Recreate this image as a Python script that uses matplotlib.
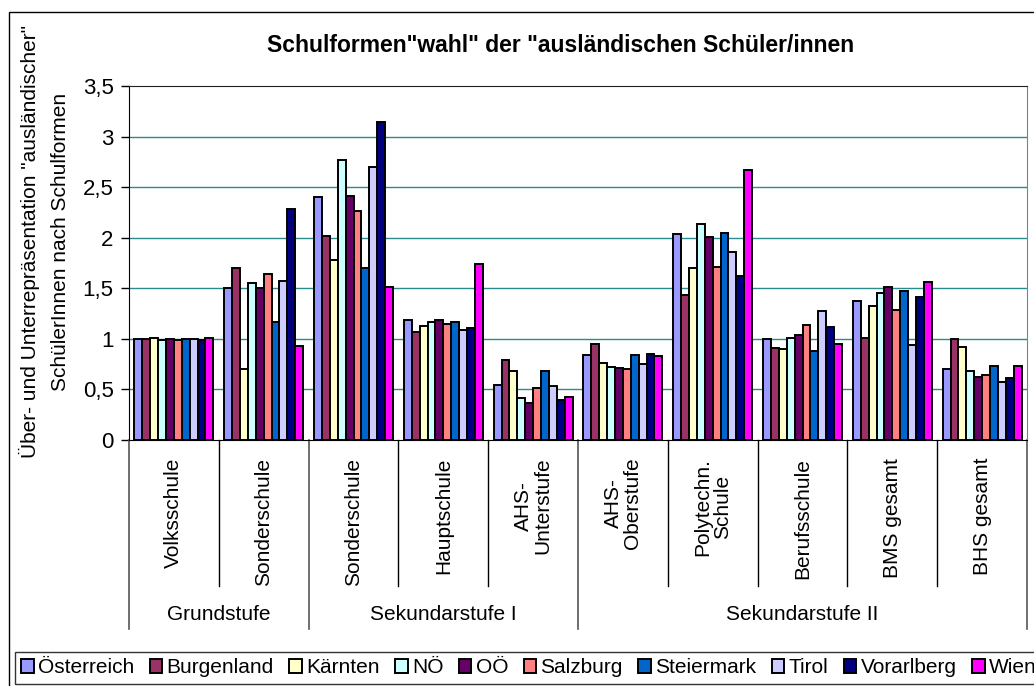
import matplotlib
matplotlib.use("Agg")
import matplotlib.pyplot as plt
from matplotlib.patches import Rectangle
from matplotlib.ticker import FuncFormatter

plt.rcParams['font.family'] = ['Liberation Sans', 'DejaVu Sans']

# --- Daten ---
schulformen = ["Volksschule", "Sonderschule", "Sonderschule", "Hauptschule", "AHS-\nUnterstufe",
               "AHS-\nOberstufe", "Polytechn.\nSchule", "Berufsschule", "BMS gesamt", "BHS gesamt"]
stufen = ["Grundstufe", "Sekundarstufe I", "Sekundarstufe II"]
stufen_anzahl = [2, 3, 5]

laender = ["Österreich", "Burgenland", "Kärnten", "NÖ", "OÖ",
           "Salzburg", "Steiermark", "Tirol", "Vorarlberg", "Wien"]

oesterreich = [1.00, 1.50, 2.40, 1.19, 0.54, 0.84, 2.04, 1.00, 1.37, 0.70]
burgenland  = [1.00, 1.70, 2.02, 1.07, 0.79, 0.95, 1.43, 0.91, 1.01, 1.00]
kaernten    = [1.01, 0.70, 1.78, 1.13, 0.68, 0.76, 1.70, 0.90, 1.32, 0.92]
noe         = [0.99, 1.55, 2.77, 1.17, 0.42, 0.72, 2.14, 1.01, 1.45, 0.68]
ooe         = [1.00, 1.50, 2.41, 1.19, 0.37, 0.71, 2.01, 1.04, 1.51, 0.62]
salzburg    = [0.99, 1.64, 2.26, 1.15, 0.51, 0.70, 1.71, 1.14, 1.29, 0.64]
steiermark  = [1.00, 1.17, 1.70, 1.17, 0.68, 0.84, 2.05, 0.88, 1.47, 0.73]
tirol       = [1.00, 1.57, 2.70, 1.09, 0.53, 0.75, 1.86, 1.28, 0.94, 0.57]
vorarlberg  = [0.99, 2.28, 3.14, 1.11, 0.40, 0.85, 1.62, 1.12, 1.41, 0.61]
wien        = [1.01, 0.93, 1.51, 1.74, 0.43, 0.83, 2.67, 0.95, 1.56, 0.73]

werte = [oesterreich, burgenland, kaernten, noe, ooe, salzburg, steiermark, tirol, vorarlberg, wien]
farben = ["#9999FF", "#993366", "#FFFFCC", "#CCFFFF", "#660066",
          "#FF8080", "#0066CC", "#CCCCFF", "#000080", "#FF00FF"]

FS = 15

fig = plt.figure(figsize=(10.34, 6.86), dpi=100)
ax = fig.add_axes([129 / 1034, 1 - 440 / 686, (1027 - 129) / 1034, 354 / 686])

n = len(laender)
breite = 0.879 / n
for k, (name, vals, col) in enumerate(zip(laender, werte, farben)):
    xs = [i - 0.4395 + breite * (k + 0.5) for i in range(len(schulformen))]
    ax.bar(xs, vals, width=breite, color=col, edgecolor="black", linewidth=1.4,
           label=name, zorder=3)

ax.set_xlim(-0.5, len(schulformen) - 0.5)
ax.set_ylim(0, 3.5)
ax.set_yticks([0, 0.5, 1, 1.5, 2, 2.5, 3, 3.5])
ax.yaxis.set_major_formatter(FuncFormatter(lambda v, p: ("%g" % v).replace(".", ",")))
ax.tick_params(axis="y", labelsize=16, length=6, pad=5, width=1)
ax.set_xticks([])
for y in [0.5, 1, 1.5, 2, 2.5, 3]:
    ax.axhline(y, color="#2a8c8c", linewidth=1.0, zorder=1)
ax.spines["top"].set_color("#222222")
ax.spines["right"].set_color("#808080")

# kategorische Achse (zwei Ebenen)
tr = ax.get_xaxis_transform()
grenzen = [-0.5]
for a in stufen_anzahl:
    grenzen.append(grenzen[-1] + a)
for b in range(len(schulformen) + 1):
    xb = b - 0.5
    if xb in grenzen:
        ax.plot([xb, xb], [0, -0.534], color="#555555", lw=1.2, transform=tr, clip_on=False)
    else:
        ax.plot([xb, xb], [0, -0.412], color="black", lw=1.0, transform=tr, clip_on=False)
for i, s in enumerate(schulformen):
    ax.text(i, -0.05, s, rotation=90, ha="center", va="top", multialignment="center",
            fontsize=FS, transform=tr, linespacing=1.0)
for j, s in enumerate(stufen):
    mitte = (grenzen[j] + grenzen[j + 1]) / 2
    ax.text(mitte, -0.494, s, ha="center", va="center", fontsize=FS, transform=tr)

fig.text(0.542, 1 - 45 / 686, 'Schulformen"wahl" der "ausländischen Schüler/innen',
         ha="center", va="center", fontsize=16.5, fontweight="bold")
fig.text(29 / 1034, 1 - 242 / 686, 'Über- und Unterrepräsentation "ausländischer"',
         rotation=90, ha="center", va="center", fontsize=FS)
fig.text(61 / 1034, 1 - 242 / 686, 'SchülerInnen nach Schulformen',
         rotation=90, ha="center", va="center", fontsize=FS)

# Rahmen um das Diagramm
fig.patches.append(Rectangle((9 / 1034, -0.1), 1.2, 1 - 12 / 686 + 0.1, transform=fig.transFigure,
                             fill=False, edgecolor="black", linewidth=1.0))

leg = fig.legend(loc="upper left", bbox_to_anchor=(15 / 1034, 1 - 652 / 686), ncol=n,
                 fontsize=15, frameon=True, fancybox=False, edgecolor="black",
                 handlelength=0.6, handleheight=0.6, handletextpad=0.2,
                 columnspacing=0.75, borderpad=0.3, borderaxespad=0)
leg.get_frame().set_linewidth(1.0)

fig.savefig("out.png", dpi=100)
